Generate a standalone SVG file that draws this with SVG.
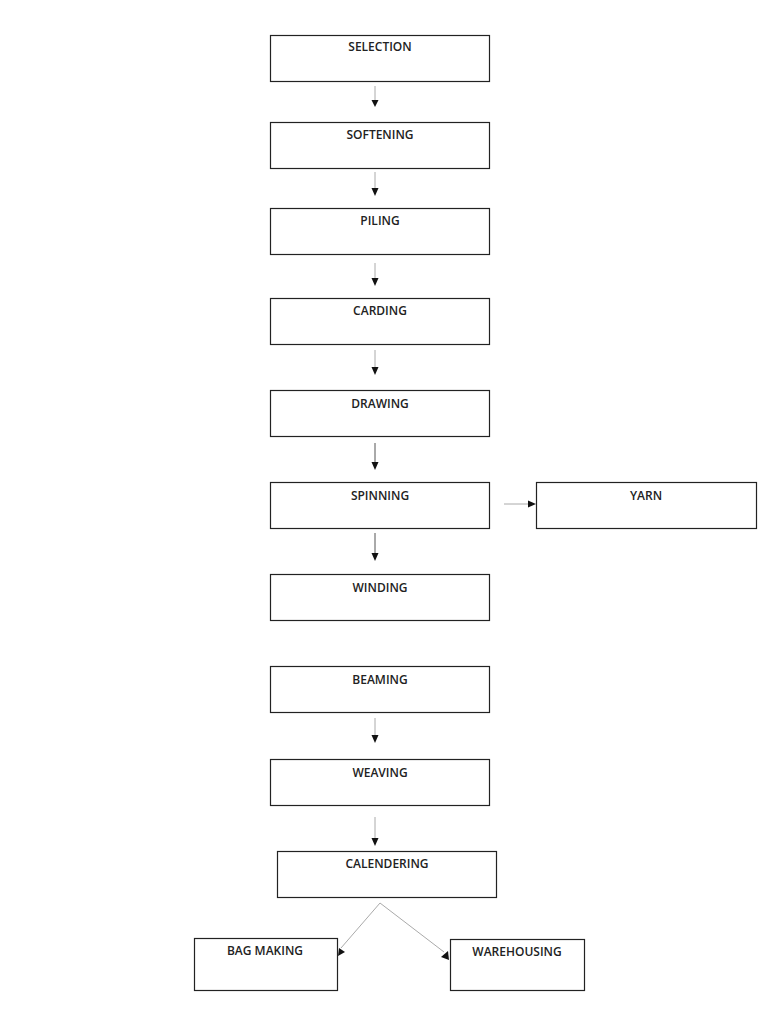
<svg xmlns="http://www.w3.org/2000/svg" width="768" height="1024" viewBox="0 0 768 1024">
<style>
.box{fill:#fff;stroke:#222;stroke-width:1.2}
.lbl{font-family:"Open Sans","Liberation Sans",sans-serif;font-size:12px;font-weight:600;fill:#222;text-anchor:middle}
.con{stroke:#aaa;stroke-width:1;fill:none}
.head{fill:#111}
</style>
<rect width="768" height="1024" fill="#fff"/>
<g id="n-selection"><rect class="box" x="270.5" y="35.5" width="219" height="46"/><text class="lbl" x="380" y="51">SELECTION</text></g>
<g id="n-softening"><rect class="box" x="270.5" y="122.5" width="219" height="46"/><text class="lbl" x="380" y="139">SOFTENING</text></g>
<g id="n-piling"><rect class="box" x="270.5" y="208.5" width="219" height="46"/><text class="lbl" x="380" y="225">PILING</text></g>
<g id="n-carding"><rect class="box" x="270.5" y="298.5" width="219" height="46"/><text class="lbl" x="380" y="315">CARDING</text></g>
<g id="n-drawing"><rect class="box" x="270.5" y="390.5" width="219" height="46"/><text class="lbl" x="380" y="408">DRAWING</text></g>
<g id="n-spinning"><rect class="box" x="270.5" y="482.5" width="219" height="46"/><text class="lbl" x="380" y="500">SPINNING</text></g>
<g id="n-yarn"><rect class="box" x="536.5" y="482.5" width="220" height="46"/><text class="lbl" x="646" y="500">YARN</text></g>
<g id="n-winding"><rect class="box" x="270.5" y="574.5" width="219" height="46"/><text class="lbl" x="380" y="592">WINDING</text></g>
<g id="n-beaming"><rect class="box" x="270.5" y="666.5" width="219" height="46"/><text class="lbl" x="380" y="684">BEAMING</text></g>
<g id="n-weaving"><rect class="box" x="270.5" y="759.5" width="219" height="46"/><text class="lbl" x="380" y="777">WEAVING</text></g>
<g id="n-calendering"><rect class="box" x="277.5" y="851.5" width="219" height="46"/><text class="lbl" x="387" y="868">CALENDERING</text></g>
<g id="n-bagmaking"><rect class="box" x="194.5" y="938.5" width="143" height="52"/><text class="lbl" x="265" y="955">BAG MAKING</text></g>
<g id="n-warehousing"><rect class="box" x="450.5" y="939.5" width="134" height="51"/><text class="lbl" x="517" y="956">WAREHOUSING</text></g>
<g id="connectors">
<line class="con" x1="375" y1="86" x2="375" y2="100"/><polygon class="head" points="371.5,100 378.5,100 375,107"/>
<line class="con" x1="375" y1="172" x2="375" y2="188"/><polygon class="head" points="371.5,188 378.5,188 375,196"/>
<line class="con" x1="375" y1="263" x2="375" y2="278"/><polygon class="head" points="371.5,278 378.5,278 375,286"/>
<line class="con" x1="375" y1="350" x2="375" y2="367"/><polygon class="head" points="371.5,367 378.5,367 375,375"/>
<line class="con" x1="375" y1="443" x2="375" y2="462" style="stroke:#555"/><polygon class="head" points="371.5,462 378.5,462 375,470"/>
<line class="con" x1="375" y1="533" x2="375" y2="553" style="stroke:#555"/><polygon class="head" points="371.5,553 378.5,553 375,561"/>
<line class="con" x1="375" y1="718" x2="375" y2="735"/><polygon class="head" points="371.5,735 378.5,735 375,743"/>
<line class="con" x1="375" y1="817" x2="375" y2="838"/><polygon class="head" points="371.5,838 378.5,838 375,846"/>
<line class="con" x1="504" y1="504" x2="528" y2="504"/><polygon class="head" points="528,500.5 528,507.5 536,504"/>
<line class="con" x1="380" y1="903" x2="341" y2="948"/><polygon class="head" points="339,948 345,952 338,956"/>
<line class="con" x1="380" y1="903" x2="444" y2="952"/><polygon class="head" points="441,957 448,951 449,960"/>
</g>
</svg>
